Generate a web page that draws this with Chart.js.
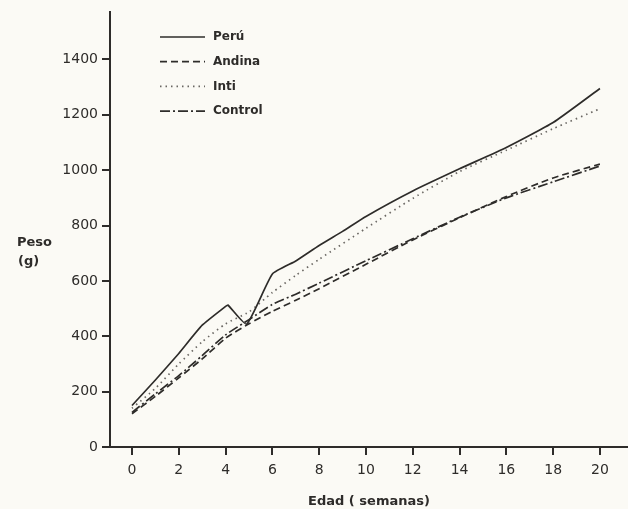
<!DOCTYPE html>
<html lang="es">
<head>
<meta charset="UTF-8">
<script src="https://cdn.jsdelivr.net/npm/chart.js@4.4.0/dist/chart.umd.min.js"></script>
<title>Peso por edad</title>
<style>
  body { margin: 0; background: #fbfaf5; }
  #wrap { position: relative; width: 628px; height: 509px; }
</style>
</head>
<body>
<div id="wrap"><canvas id="chart"></canvas></div>
<script>
// data (weeks, grams)
const weeks = [0, 1, 2, 3, 4, 5, 6, 7, 8, 10, 12, 14, 16, 18, 20];
const peruWeeks = [0, 1, 2, 3, 4, 4.1, 4.9, 6, 7, 8, 9, 10, 12, 14, 16, 18, 20];
const peru = [150, 242, 338, 440, 508, 513, 444, 625, 672, 728, 779, 833, 925, 1005, 1082, 1172, 1295];
const andina = [120, 183, 250, 318, 393, 445, 490, 530, 572, 660, 748, 828, 905, 972, 1022];
const inti = [140, 212, 300, 380, 445, 488, 558, 620, 678, 790, 898, 995, 1072, 1150, 1222];
const control = [125, 192, 258, 330, 405, 460, 515, 552, 592, 673, 752, 830, 900, 958, 1015];
const xTicks = [0, 2, 4, 6, 8, 10, 12, 14, 16, 18, 20];
const yTicks = [0, 200, 400, 600, 800, 1000, 1200, 1400];

const ink = '#2e2c2a';
const fam = "'DejaVu Sans', sans-serif";

function pts(xs, ys) {
  return xs.map((x, i) => ({ x: x, y: ys[i] }));
}

// draws "Peso (g)" and the little legend box in the top left
const extras = {
  id: 'extras',
  afterDraw(chart) {
    const ctx = chart.ctx;
    ctx.save();
    ctx.fillStyle = ink;
    ctx.font = 'bold 13px ' + fam;
    ctx.textBaseline = 'middle';
    ctx.fillText('Peso', 17, 243);
    ctx.fillText('(g)', 18, 262);

    let y = 37;
    chart.data.datasets.forEach(ds => {
      ctx.beginPath();
      ctx.setLineDash(ds.borderDash || []);
      ctx.strokeStyle = ds.borderColor;
      ctx.lineWidth = ds.borderWidth;
      ctx.moveTo(160, y);
      ctx.lineTo(205, y);
      ctx.stroke();
      ctx.setLineDash([]);
      ctx.fillStyle = ink;
      ctx.font = 'bold 12px ' + fam;
      ctx.fillText(ds.label, 213, y);
      y += 24.7;
    });
    ctx.restore();
  }
};

const ctx = document.getElementById('chart').getContext('2d');
new Chart(ctx, {
  type: 'line',
  data: {
    datasets: [
      { label: 'Perú', data: pts(peruWeeks, peru), borderColor: ink, borderWidth: 1.7, tension: 0.15 },
      { label: 'Andina', data: pts(weeks, andina), borderColor: ink, borderWidth: 1.7, borderDash: [7, 4], tension: 0.2 },
      { label: 'Inti', data: pts(weeks, inti), borderColor: '#6a6763', borderWidth: 1.7, borderDash: [1.5, 4], tension: 0.2 },
      { label: 'Control', data: pts(weeks, control), borderColor: ink, borderWidth: 1.7, borderDash: [10, 3, 2, 3], tension: 0.2 }
    ]
  },
  options: {
    responsive: true,
    maintainAspectRatio: false,
    animation: false,
    layout: { padding: { top: 10, right: 0, bottom: 0, left: 0 } },
    elements: { point: { radius: 0 } },
    plugins: { legend: { display: false }, tooltip: { enabled: false } },
    scales: {
      x: {
        type: 'linear',
        min: -0.94,
        max: 21.2,
        afterBuildTicks: s => { s.ticks = xTicks.map(v => ({ value: v })); },
        afterFit: s => { s.height = 62; },
        grid: { drawOnChartArea: false, drawTicks: true, tickLength: 8, color: ink, lineWidth: 2 },
        border: { display: true, color: ink, width: 2 },
        ticks: { color: ink, font: { family: fam, size: 14 }, padding: 7, maxRotation: 0, callback: v => String(v) },
        title: { display: true, text: 'Edad ( semanas)', color: ink, font: { family: fam, size: 13, weight: 'bold' }, padding: { top: 4, bottom: 0 } }
      },
      y: {
        min: 0,
        max: 1570,
        afterBuildTicks: s => { s.ticks = yTicks.map(v => ({ value: v })); },
        afterFit: s => { s.width = 110; },
        grid: { drawOnChartArea: false, drawTicks: true, tickLength: 8, color: ink, lineWidth: 2 },
        border: { display: true, color: ink, width: 2 },
        ticks: { color: ink, font: { family: fam, size: 14 }, padding: 4, callback: v => String(v) }
      }
    }
  },
  plugins: [extras]
});
</script>
</body>
</html>
